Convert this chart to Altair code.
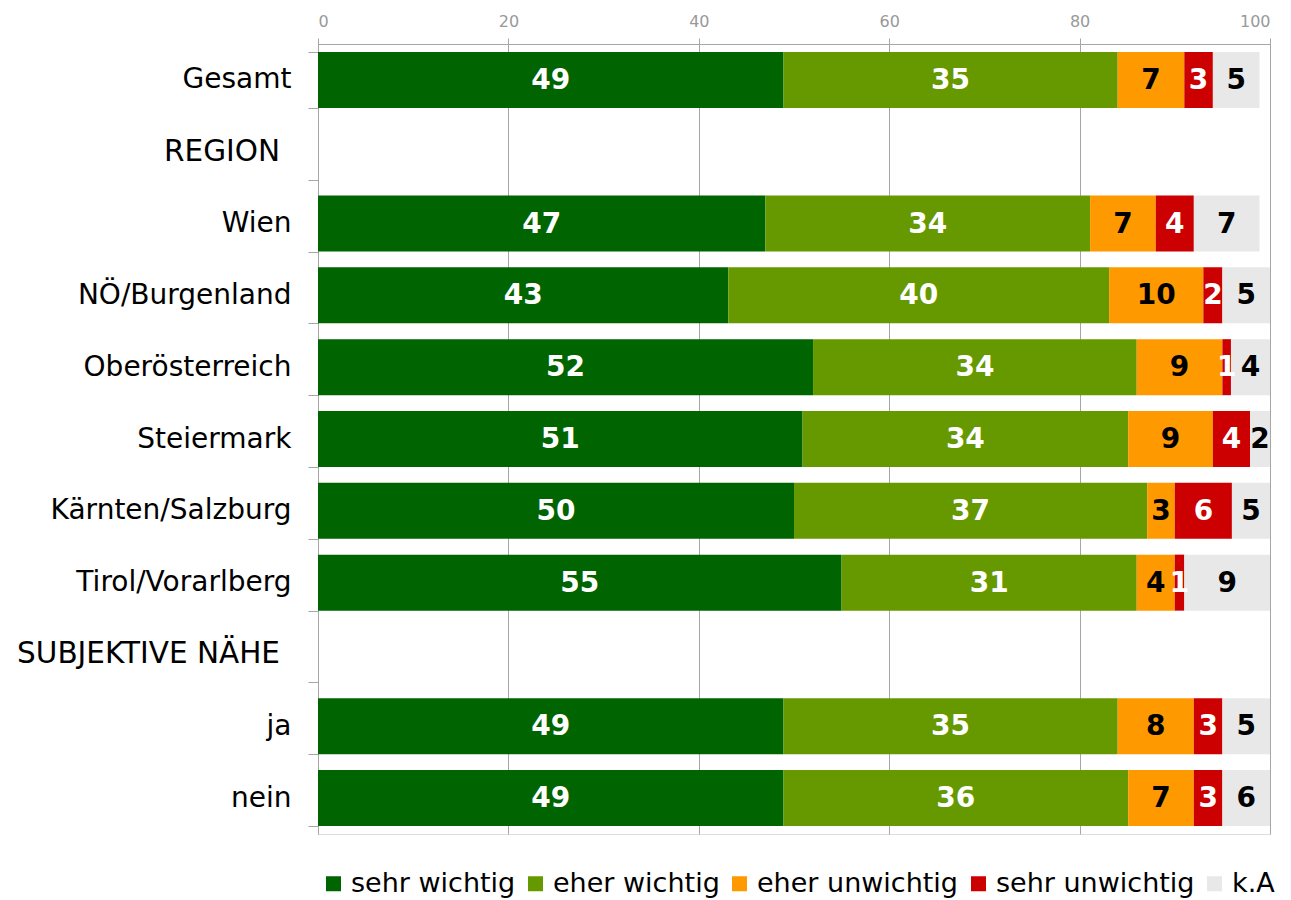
import altair as alt
import pandas as pd

categories = ["Gesamt", "REGION", "Wien", "NÖ/Burgenland", "Oberösterreich",
              "Steiermark", "Kärnten/Salzburg", "Tirol/Vorarlberg",
              "SUBJEKTIVE NÄHE", "ja", "nein"]
headers = ["REGION", "SUBJEKTIVE NÄHE"]
data_rows = ["Gesamt", "Wien", "NÖ/Burgenland", "Oberösterreich", "Steiermark",
             "Kärnten/Salzburg", "Tirol/Vorarlberg", "ja", "nein"]
series = ["sehr wichtig", "eher wichtig", "eher unwichtig", "sehr unwichtig", "k.A"]

sehr_wichtig = [48.9, 47.0, 43.1, 52.0, 50.9, 50.0, 55.0, 48.9, 48.9]
eher_wichtig = [35.1, 34.1, 40.0, 34.0, 34.2, 37.1, 31.0, 35.1, 36.2]
eher_unwichtig = [7.0, 6.9, 9.9, 9.0, 8.9, 2.9, 4.0, 8.0, 6.9]
sehr_unwichtig = [3.0, 4.0, 2.0, 0.9, 3.9, 6.0, 1.0, 3.0, 3.0]
k_a = [4.9, 6.9, 5.0, 4.1, 2.1, 4.6, 9.0, 5.0, 5.6]

colors = ["#006400", "#669900", "#FF9900", "#CC0000", "#E8E8E8"]
x_ticks = [0, 20, 40, 60, 80, 100]

all_vals = [sehr_wichtig, eher_wichtig, eher_unwichtig, sehr_unwichtig, k_a]
records = []
for si, (s, vals) in enumerate(zip(series, all_vals)):
    for c, v in zip(data_rows, vals):
        records.append({"cat": c, "series": s, "idx": si, "value": v})
df = pd.DataFrame(records)
df_headers = pd.DataFrame({"cat": headers})

FONT = "DejaVu Sans"

base = alt.Chart(df).transform_stack(
    stack="value", groupby=["cat"], as_=["x0", "x1"],
    sort=[alt.SortField("idx", order="ascending")]
).transform_calculate(
    mid="(datum.x0 + min(datum.x1, 100)) / 2"
)

ysc = alt.Scale(domain=categories, paddingInner=0.22, paddingOuter=0.11)

y_enc = alt.Y("cat:N", scale=ysc,
              axis=alt.Axis(title=None, tickBand="extent", tickSize=10, labelPadding=17,
                            labelFontSize=28, labelFont=FONT, labelColor="#000000",
                            labelLimit=500, domainColor="#a6a6a6", tickColor="#a6a6a6",
                            grid=False,
                            labelExpr="(datum.value == 'REGION' || datum.value == 'SUBJEKTIVE NÄHE') ? '' : datum.label"))

bars = base.mark_bar(clip=True).encode(
    x=alt.X("x0:Q", scale=alt.Scale(domain=[0, 100], nice=False),
            axis=alt.Axis(orient="top", values=x_ticks, title=None, grid=True,
                          gridColor="#a6a6a6", domainColor="#a6a6a6", tickColor="#a6a6a6",
                          tickSize=6, labelColor="#999999", labelFontSize=16,
                          labelFont=FONT, labelPadding=9)),
    x2="x1:Q",
    y=y_enc,
    color=alt.Color("series:N", scale=alt.Scale(domain=series, range=colors),
                    legend=alt.Legend(title=None, orient="none", direction="horizontal",
                                      legendX=2, legendY=826, symbolType="square",
                                      symbolSize=225, symbolStrokeWidth=0,
                                      labelFontSize=27, labelFont=FONT, labelColor="#000000",
                                      labelLimit=400, labelOffset=4, columnPadding=6,
                                      columns=5)),
)

labels = base.mark_text(font=FONT, fontSize=28, fontWeight="bold", baseline="middle",
                        align="center", dy=1).encode(
    x=alt.X("mid:Q"),
    y=alt.Y("cat:N", scale=ysc),
    text=alt.Text("value:Q", format=".0f"),
    color=alt.condition(
        alt.FieldOneOfPredicate(field="idx", oneOf=[2, 4]),
        alt.value("#000000"), alt.value("#ffffff")),
)

header_text = alt.Chart(df_headers).mark_text(
    font=FONT, fontSize=29.5, baseline="middle", align="right", color="#000000"
).encode(
    x=alt.value(-38),
    y=alt.Y("cat:N", scale=ysc),
    text="cat:N",
)

chart = alt.layer(bars, labels, header_text).properties(
    width=952, height=790,
    autosize=alt.AutoSizeParams(type="none"),
    padding={"left": 310, "top": 36, "right": 13, "bottom": 70},
).configure_view(stroke="#a6a6a6").configure(background="#ffffff")

chart.save("out.html", embed_options={"renderer": "svg", "actions": False})
